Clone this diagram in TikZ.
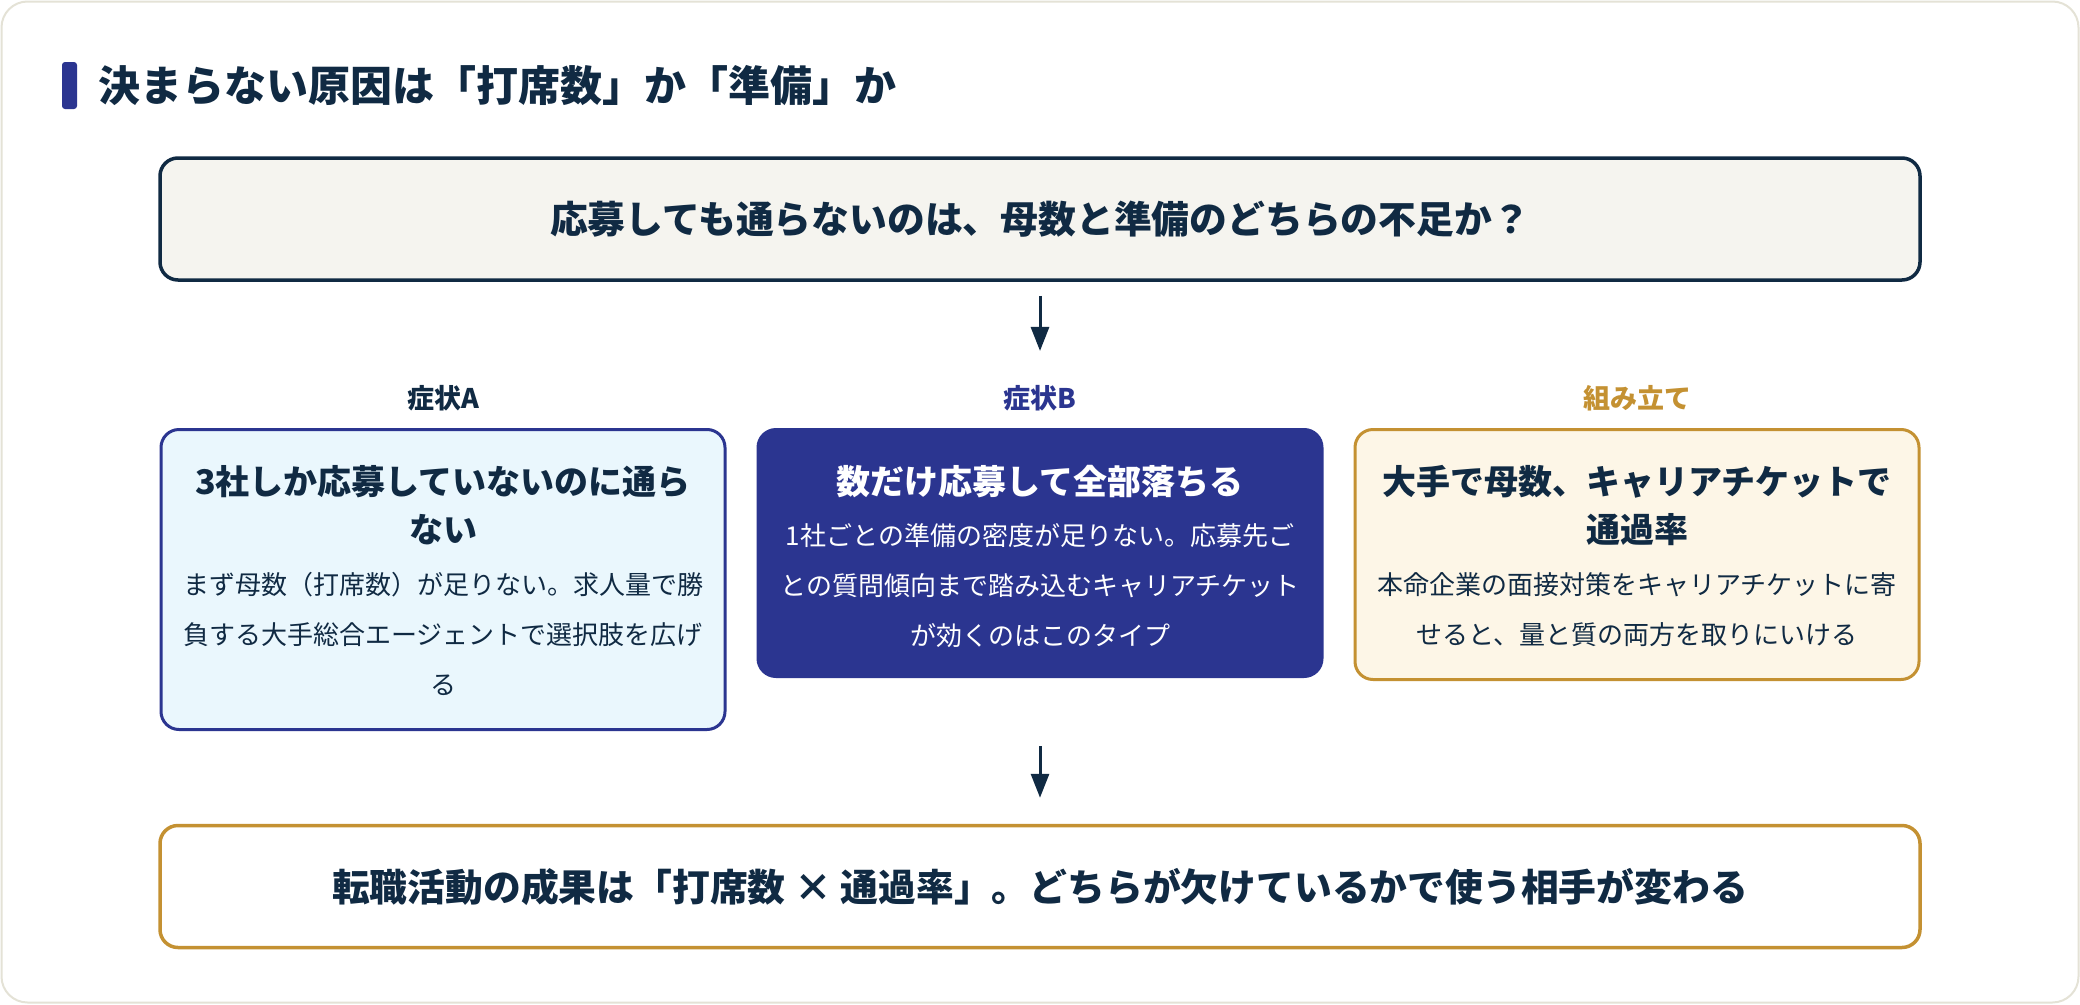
\documentclass[tikz,border=0pt]{standalone}
\usepackage{fontspec}
\setmainfont{Noto Sans CJK JP}
\usepackage{xcolor}
\usepackage{tikz}
\usetikzlibrary{positioning, arrows.meta}
\definecolor{InkNavy}{RGB}{16,42,67}
\definecolor{SymIndigo}{RGB}{43,53,144}
\definecolor{BuildGold}{RGB}{196,145,50}
\definecolor{PaleCyan}{RGB}{234,247,253}
\definecolor{PaleCream}{RGB}{253,246,231}
\definecolor{PaperGrey}{RGB}{245,244,239}
\definecolor{FrameGrey}{RGB}{228,226,214}
\tikzset{
  frame/.style={draw=FrameGrey, line width=2pt, fill=white, rounded corners=26pt,
    minimum width=2077pt, minimum height=1001pt, inner sep=0pt},
  titlebar/.style={fill=SymIndigo, rounded corners=3pt, minimum width=15pt, minimum height=47pt, inner sep=0pt},
  titletext/.style={anchor=west, inner sep=0pt, text=InkNavy, font=\fontsize{42}{50}\selectfont\bfseries},
  widebox/.style={line width=3.5pt, rounded corners=18pt, minimum width=1760pt, minimum height=122pt,
    inner sep=0pt, text=InkNavy, font=\fontsize{37.8}{44}\selectfont\bfseries},
  card/.style={anchor=north, line width=3pt, rounded corners=18pt, minimum width=564pt, inner sep=0pt},
  card-A/.style={draw=SymIndigo, fill=PaleCyan},
  card-B/.style={draw=SymIndigo, fill=SymIndigo},
  card-C/.style={draw=BuildGold, fill=PaleCream},
  lab-A/.style={text=InkNavy},
  lab-B/.style={text=SymIndigo},
  lab-C/.style={text=BuildGold},
  txt-A/.style={text=InkNavy},
  txt-B/.style={text=white},
  txt-C/.style={text=InkNavy},
  collabel/.style={inner sep=0pt, font=\fontsize{27}{30}\selectfont\bfseries},
  cardhead/.style={anchor=north, align=center, inner sep=0pt, font=\fontsize{34}{48}\selectfont\bfseries},
  cardbody/.style={anchor=north, align=center, inner sep=0pt, font=\fontsize{26}{50}\selectfont},
  flowarrow/.style={-{Triangle[length=24pt, width=18pt]}, line width=3pt, InkNavy},
}

\begin{document}
\begin{tikzpicture}[x=1pt, y=-1pt]
  \useasboundingbox (0,0) rectangle (2080,1004);
  \node[frame] (page) at (1040,502) {};

  % heading
  \node[titlebar] (bar) at (69.5,85.5) {};
  \node[titletext, right=21pt of bar] (heading) {決まらない原因は「打席数」か「準備」か};

  % question and result
  \node[widebox, draw=InkNavy, fill=PaperGrey] (question) at (1040,219) {応募しても通らないのは、母数と準備のどちらの不足か？};
  \node[widebox, draw=BuildGold, fill=white] (result) at (1040,886.5) {転職活動の成果は「打席数 × 通過率」。どちらが欠けているかで使う相手が変わる};

  % three columns
  \foreach \x/\k/\lab/\hd/\bd/\h/\by in {
      443/A/症状A/{3社しか応募していないのに通ら\\ない}/{まず母数（打席数）が足りない。求人量で勝\\負する大手総合エージェントで選択肢を広げ\\る}/300/572,
      1040/B/症状B/{数だけ応募して全部落ちる}/{1社ごとの準備の密度が足りない。応募先ご\\との質問傾向まで踏み込むキャリアチケット\\が効くのはこのタイプ}/247/523,
      1637/C/組み立て/{大手で母数、キャリアチケットで\\通過率}/{本命企業の面接対策をキャリアチケットに寄\\せると、量と質の両方を取りにいける}/250/572} {
    \node[collabel, lab-\k] (lab\k) at (\x,398) {\lab};
    \node[card, card-\k, minimum height=\h pt] (card\k) at (\x,428) {};
    \node[cardhead, txt-\k] (head\k) at (\x,465) {\hd};
    \node[cardbody, txt-\k] (body\k) at (\x,\by) {\bd};
  }

  \draw[flowarrow, shorten <=14pt, shorten >=34pt] (question) -- (labB);
  \draw[flowarrow, shorten <=15pt, shorten >=26pt] (cardA.south -| result.north) -- (result.north);
\end{tikzpicture}
\end{document}
